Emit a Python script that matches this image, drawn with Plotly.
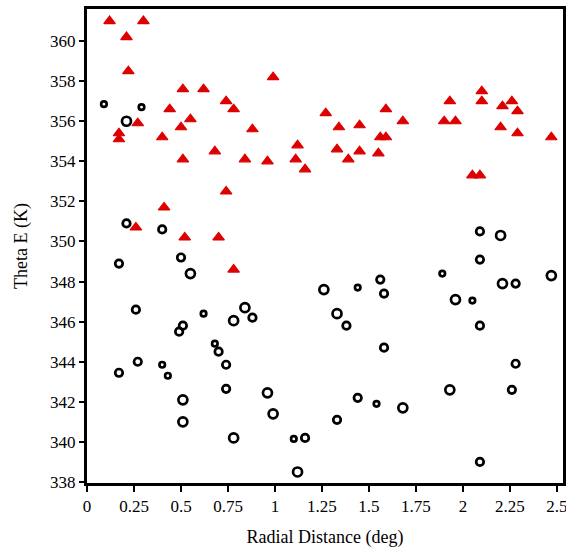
import plotly.graph_objects as go

# Red triangles
tri_x = [0.12, 0.30, 0.21, 0.22, 0.51, 0.62, 0.99, 0.74, 0.78, 0.44, 0.27, 0.55, 0.50, 0.88,
         0.17, 0.17, 0.40, 0.51, 0.68, 0.84, 0.96, 0.74, 0.41, 0.26, 0.52, 0.70, 0.78,
         1.27, 1.12, 1.11, 1.16, 1.34, 1.33, 1.39, 1.45, 1.45, 1.59, 1.56, 1.59, 1.55, 1.68,
         1.93, 1.90, 1.96, 2.10, 2.10, 2.05, 2.09, 2.26, 2.21, 2.29, 2.20, 2.29, 2.47]
tri_y = [361.0, 361.0, 360.2, 358.5, 357.6, 357.6, 358.2, 357.0, 356.6, 356.6, 355.9, 356.1, 355.7, 355.6,
         355.4, 355.1, 355.2, 354.1, 354.5, 354.1, 354.0, 352.5, 351.7, 350.7, 350.2, 350.2, 348.6,
         356.4, 354.8, 354.1, 353.6, 355.7, 354.6, 354.1, 355.8, 354.5, 356.6, 355.2, 355.2, 354.4, 356.0,
         357.0, 356.0, 356.0, 357.5, 357.0, 353.3, 353.3, 357.0, 356.75, 356.5, 355.7, 355.4, 355.2]

# Black open circles
cir_x = [0.09, 0.29, 0.21, 0.21, 0.40,
         0.17, 0.50, 0.55, 0.26, 0.62, 0.51, 0.49, 0.84, 0.78, 0.88, 0.68, 0.70, 0.74, 0.27, 0.17,
         0.40, 0.43, 0.74, 0.96, 0.51, 0.99, 0.51, 0.78,
         2.09, 2.20, 2.09, 1.89, 2.47, 1.26, 1.44, 1.56, 1.58, 2.21, 2.28, 1.96, 2.05, 1.33, 1.38,
         2.09, 1.58, 2.28, 1.93, 2.26, 1.44, 1.54, 1.68, 1.33, 1.10, 1.16, 1.12, 2.09]
cir_y = [356.85, 356.7, 356.0, 350.9, 350.6,
         348.9, 349.2, 348.4, 346.6, 346.4, 345.8, 345.5, 346.7, 346.05, 346.2, 344.9, 344.5, 343.85, 344.0, 343.45,
         343.85, 343.3, 342.65, 342.45, 342.1, 341.4, 341.0, 340.2,
         350.5, 350.3, 349.1, 348.4, 348.3, 347.6, 347.7, 348.1, 347.4, 347.9, 347.9, 347.1, 347.05, 346.4, 345.8,
         345.8, 344.7, 343.9, 342.6, 342.6, 342.2, 341.9, 341.7, 341.1, 340.15, 340.2, 338.5, 339.0]
cir_s = ["S", "S", "L", "M", "M",
         "M", "M", "L", "M", "S", "M", "M", "L", "L", "M", "S", "M", "M", "M", "M",
         "S", "S", "M", "L", "L", "L", "L", "L",
         "M", "L", "M", "S", "L", "L", "S", "M", "M", "L", "M", "L", "S", "L", "M",
         "M", "M", "M", "L", "M", "M", "S", "L", "M", "S", "M", "L", "M"]

x_ticks = [0, 0.25, 0.5, 0.75, 1, 1.25, 1.5, 1.75, 2, 2.25, 2.5]
x_tick_labels = ["0", "0.25", "0.5", "0.75", "1", "1.25", "1.5", "1.75", "2", "2.25", "2.5"]
y_ticks = list(range(338, 361, 2))

size_map = {"S": 5.5, "M": 7.5, "L": 9}

fig = go.Figure()
fig.add_trace(go.Scatter(
    x=cir_x, y=cir_y, mode="markers",
    marker=dict(symbol="circle-open", size=[size_map[s] for s in cir_s],
                color="black", opacity=1, line=dict(width=2.7, color="black")),
    showlegend=False))
fig.add_trace(go.Scatter(
    x=tri_x, y=tri_y, mode="markers",
    marker=dict(symbol="triangle-up", size=10, color="#dd0000", opacity=1,
                line=dict(width=1.2, color="#dd0000")),
    showlegend=False))

font = "Liberation Serif, Times New Roman, serif"
fig.update_layout(
    template="none",
    width=566, height=548,
    margin=dict(l=87, r=3, t=9, b=65),
    plot_bgcolor="white", paper_bgcolor="white",
    font=dict(family=font, size=17, color="black"),
    xaxis=dict(range=[0, 2.532], tickvals=x_ticks, ticktext=x_tick_labels,
               showgrid=False, zeroline=False, showline=True, linewidth=3,
               linecolor="black", mirror=True, ticks="outside", ticklen=6,
               tickwidth=2, tickcolor="black", ticklabeloverflow="allow",
               tickfont=dict(family=font, size=17, color="black"),
               title=dict(text="Radial Distance (deg)",
                          font=dict(family=font, size=18, color="black"), standoff=24)),
    yaxis=dict(range=[337.95, 361.6], tickvals=y_ticks,
               showgrid=False, zeroline=False, showline=True, linewidth=3,
               linecolor="black", mirror=True, ticks="outside", ticklen=5,
               tickwidth=2, tickcolor="black",
               tickfont=dict(family=font, size=17, color="black"),
               title=dict(text="Theta E (K)",
                          font=dict(family=font, size=18, color="black"), standoff=18)),
)

fig.write_html("out.html", config={"displayModeBar": False},
               post_script="document.body.style.margin='0';document.body.style.overflow='hidden';")
